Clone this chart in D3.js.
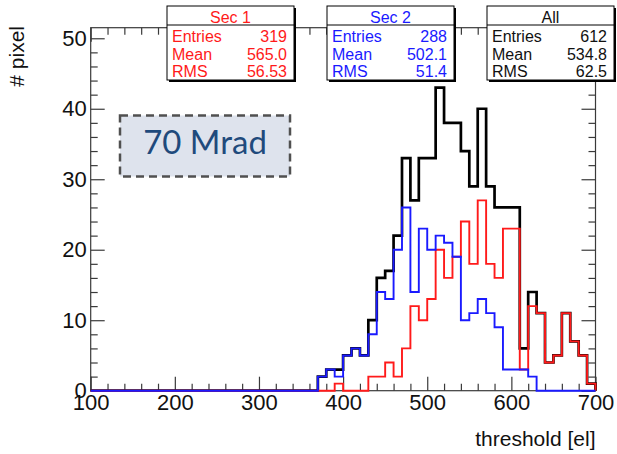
<!DOCTYPE html>
<html><head><meta charset="utf-8">
<script src="https://cdn.jsdelivr.net/npm/d3@7"></script>
<style>
body{margin:0;background:#fff}
svg{display:block;font-family:"Liberation Sans",Arial,Helvetica,sans-serif}
</style>
</head><body>
<svg id="c" width="617" height="454"></svg>
<script>
// ---------- data ----------
const binEdges = [100,110,120,130,140,150,160,170,180,190,200,210,220,230,240,250,260,270,280,290,
  300,310,320,330,340,350,360,370,380,390,400,410,420,430,440,450,460,470,480,490,
  500,510,520,530,540,550,560,570,580,590,600,610,620,630,640,650,660,670,680,690];
const binWidth = 10;
const sec1 = [0,0,0,0,0,0,0,0,0,0,0,0,0,0,0,0,0,0,0,0,
  0,0,0,0,0,0,0,0,0,1,0,0,0,2,2,4,2,6,12,10,
  13,20,16,19,24,18,27,18,16,23,23,3,12,11,4,5,11,7,5,1];
const sec2 = [0,0,0,0,0,0,0,0,0,0,0,0,0,0,0,0,0,0,0,0,
  0,0,0,0,0,0,0,2,3,2,5,6,5,8,14,13,20,26,14,23,
  20,22,21,19,10,11,13,11,9,3,3,3,2,0,0,0,0,0,0,0];
const all = [0,0,0,0,0,0,0,0,0,0,0,0,0,0,0,0,0,0,0,0,
  0,0,0,0,0,0,0,2,3,3,5,6,5,10,16,17,22,33,27,33,
  33,43,38,38,34,29,40,29,26,26,26,6,14,11,4,5,11,7,5,1];
const xTicks = [100,200,300,400,500,600,700];
const yTicks = [0,10,20,30,40,50];
const statTitles = ["Sec 1","Sec 2","All"];
const statLabels = ["Entries","Mean","RMS"];
const statEntries = ["319","288","612"];
const statMeans = ["565.0","502.1","534.8"];
const statRMS = ["56.53","51.4","62.5"];
const annotation = "70 Mrad";
const xTitle = "threshold [el]";
const yTitle = "# pixel";

// ---------- layout ----------
const L = 90.7, R = 595.5, B = 390.7, T = 27.7;
const x = d3.scaleLinear().domain([100,700]).range([L,R]);
const y = d3.scaleLinear().domain([0,51.5]).range([B,T]);
const svg = d3.select("#c");
const axisCol = "#3a3a3a";

// frame
svg.append("rect").attr("x",L).attr("y",T).attr("width",R-L).attr("height",B-T)
  .attr("fill","none").attr("stroke",axisCol).attr("stroke-width",1.2);

const xMinor = d3.range(100,701,20).filter(v=>v%100!==0);
const yMinor = d3.range(0,51,2).filter(v=>v%10!==0);

function styleAxis(g){
  g.select(".domain").remove();
  g.selectAll(".tick line").attr("stroke",axisCol).attr("stroke-width",1.2);
  g.selectAll("text").attr("fill","#111");
}
// bottom
svg.append("g").attr("transform",`translate(0,${B})`)
  .call(d3.axisBottom(x).tickValues(xTicks).tickSize(-14).tickPadding(4).tickFormat(d3.format("d")))
  .call(styleAxis).call(g=>g.selectAll("text").attr("font-size",22).attr("font-family",null));
svg.append("g").attr("transform",`translate(0,${B})`)
  .call(d3.axisBottom(x).tickValues(xMinor).tickSize(-7).tickFormat(""))
  .call(styleAxis);
// top
svg.append("g").attr("transform",`translate(0,${T})`)
  .call(d3.axisTop(x).tickValues(xTicks).tickSize(-14).tickFormat("")).call(styleAxis);
svg.append("g").attr("transform",`translate(0,${T})`)
  .call(d3.axisTop(x).tickValues(xMinor).tickSize(-7).tickFormat("")).call(styleAxis);
// left
svg.append("g").attr("transform",`translate(${L},0)`)
  .call(d3.axisLeft(y).tickValues(yTicks).tickSize(-14).tickPadding(4).tickFormat(d3.format("d")))
  .call(styleAxis).call(g=>g.selectAll("text").attr("font-size",22).attr("font-family",null));
svg.append("g").attr("transform",`translate(${L},0)`)
  .call(d3.axisLeft(y).tickValues(yMinor).tickSize(-7).tickFormat("")).call(styleAxis);
// right
svg.append("g").attr("transform",`translate(${R},0)`)
  .call(d3.axisRight(y).tickValues(yTicks).tickSize(-14).tickFormat("")).call(styleAxis);
svg.append("g").attr("transform",`translate(${R},0)`)
  .call(d3.axisRight(y).tickValues(yMinor).tickSize(-7).tickFormat("")).call(styleAxis);

// axis titles
svg.append("text").attr("x",R).attr("y",446).attr("text-anchor","end")
  .attr("font-size",21).attr("fill","#111").text(xTitle);
svg.append("text").attr("transform","translate(24,26) rotate(-90)").attr("text-anchor","end")
  .attr("font-size",21).attr("fill","#111").text(yTitle);

// histograms
function histPoints(vals){
  const pts = [[binEdges[0],0]];
  vals.forEach((v,i)=>{ pts.push([binEdges[i],v]); pts.push([binEdges[i]+binWidth,v]); });
  pts.push([binEdges[binEdges.length-1]+binWidth,0]);
  return pts;
}
const line = d3.line().x(d=>x(d[0])).y(d=>y(d[1]));
const series = [
  {vals: all, color:"#000000", w:2.7},
  {vals: sec1, color:"#ff1a1a", w:1.9},
  {vals: sec2, color:"#1a1aff", w:1.9}
];
series.forEach(s=>{
  svg.append("path").attr("d",line(histPoints(s.vals)))
    .attr("fill","none").attr("stroke",s.color).attr("stroke-width",s.w)
    .attr("stroke-linejoin","miter");
});

// stat boxes
const boxX = [167,327,487], boxW = 127, boxTop = 6, boxH = 74;
const boxCol = ["#ff1a1a","#1a1aff","#111111"];
statTitles.forEach((t,i)=>{
  const g = svg.append("g");
  const bx = boxX[i];
  g.append("rect").attr("x",bx+2).attr("y",boxTop+2).attr("width",boxW).attr("height",boxH).attr("fill","#000");
  g.append("rect").attr("x",bx).attr("y",boxTop).attr("width",boxW).attr("height",boxH)
    .attr("fill","#fff").attr("stroke","#000").attr("stroke-width",1);
  g.append("line").attr("x1",bx).attr("x2",bx+boxW).attr("y1",25).attr("y2",25).attr("stroke","#000");
  g.append("text").attr("x",bx+boxW/2).attr("y",23).attr("text-anchor","middle")
    .attr("font-size",16).attr("fill",boxCol[i]).text(t);
  const vals = [statEntries[i],statMeans[i],statRMS[i]];
  const base = [42,60,77];
  statLabels.forEach((lab,j)=>{
    g.append("text").attr("x",bx+5).attr("y",base[j]).attr("font-size",16).attr("fill",boxCol[i]).text(lab);
    g.append("text").attr("x",bx+boxW-7).attr("y",base[j]).attr("text-anchor","end")
      .attr("font-size",16).attr("fill",boxCol[i]).text(vals[j]);
  });
});

// annotation box
svg.append("rect").attr("x",120).attr("y",115.5).attr("width",170).attr("height",61)
  .attr("fill","#dee3ed").attr("stroke","#505050").attr("stroke-width",2.5)
  .attr("stroke-dasharray","8,5");
svg.append("text").attr("x",205).attr("y",154).attr("text-anchor","middle")
  .attr("font-family","Lato, 'Open Sans', sans-serif").attr("font-size",33)
  .attr("fill","#1f4a7c").text(annotation);
</script>
</body></html>
